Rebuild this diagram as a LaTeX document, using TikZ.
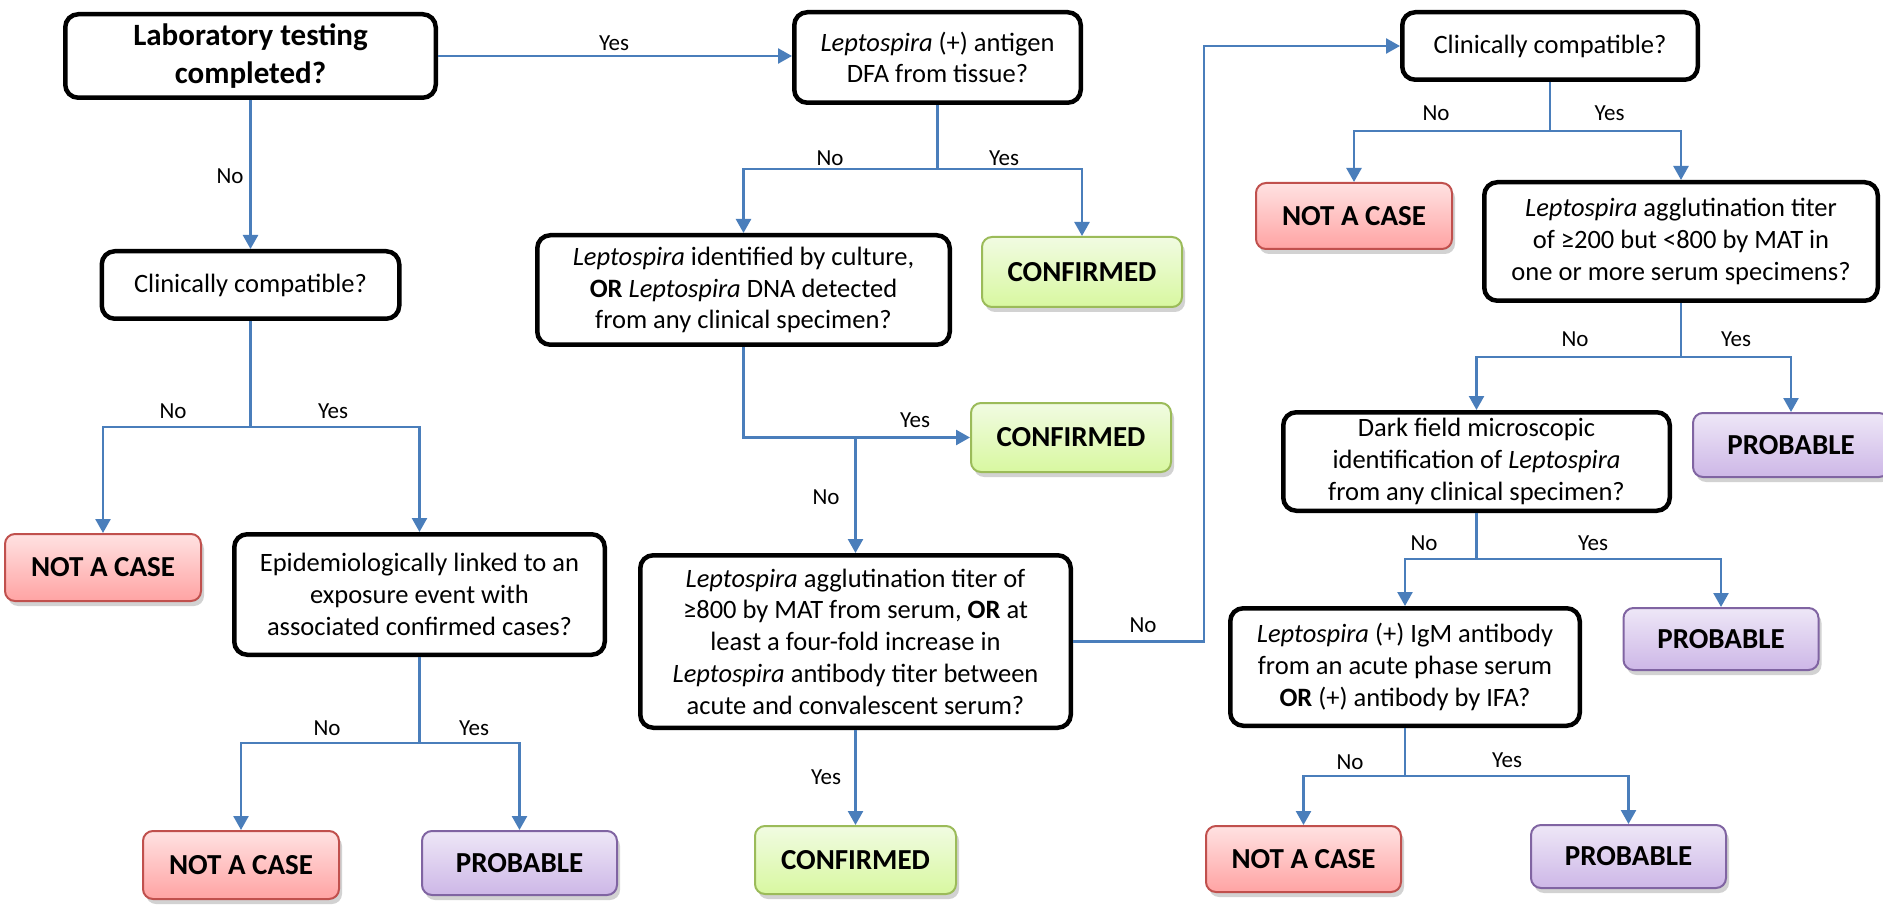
\documentclass[tikz,border=0pt]{standalone}
\usepackage{fontspec}
\setmainfont{Carlito}
\usetikzlibrary{arrows.meta,shadows,calc}
\definecolor{connc}{HTML}{4A7EBB}
\definecolor{nacT}{HTML}{FFE2E2}
\definecolor{nacB}{HTML}{FFA3A3}
\definecolor{nacD}{HTML}{C0504D}
\definecolor{cfT}{HTML}{F1FBE2}
\definecolor{cfB}{HTML}{D8F8A0}
\definecolor{cfD}{HTML}{9BBB59}
\definecolor{prT}{HTML}{EEE7F7}
\definecolor{prB}{HTML}{CDB7E7}
\definecolor{prD}{HTML}{8064A2}
\begin{document}
\begin{tikzpicture}[x=1pt,y=-1pt,
  dec/.style={draw=black, line width=4.5pt, rounded corners=13pt, fill=white,
    align=center, inner sep=0pt, font=\fontsize{26.5}{31.7}\selectfont},
  outc/.style={line width=2pt, rounded corners=10pt, align=center, inner sep=0pt,
    font=\fontsize{29}{34}\selectfont\bfseries,
    drop shadow={shadow xshift=3pt, shadow yshift=-5pt, opacity=0.25, fill=black!70}},
  nac/.style={outc, draw=nacD, top color=nacT, bottom color=nacB},
  cnf/.style={outc, draw=cfD, top color=cfT, bottom color=cfB},
  prb/.style={outc, draw=prD, top color=prT, bottom color=prB},
  cline/.style={draw=connc, line width=2.5pt},
  conn/.style={cline, -{Triangle[length=14pt,width=15pt]}},
  lbl/.style={font=\fontsize{23}{27}\selectfont, inner sep=0pt},
]
\useasboundingbox (0,0) rectangle (1883,909);
\fill[white] (0,0) rectangle (1883,909);

% decision boxes
\node[dec, minimum width=370.5pt, minimum height=83.5pt, font=\fontsize{31}{38}\selectfont\bfseries] (lab) at (250.5,56) {Laboratory testing\\completed?};
\node[dec, minimum width=286.5pt, minimum height=90.5pt] (ant) at (937.5,57.5) {\textit{Leptospira} (+) antigen\\DFA from tissue?};
\node[dec, minimum width=295.5pt, minimum height=67.5pt] (ccR) at (1550,46) {Clinically compatible?};
\node[dec, minimum width=297.5pt, minimum height=67.5pt] (ccL) at (250.5,285) {Clinically compatible?};
\node[dec, minimum width=370.5pt, minimum height=120.5pt] (epi) at (419.5,594.5) {Epidemiologically linked to an\\exposure event with\\associated confirmed cases?};
\node[dec, minimum width=412.5pt, minimum height=109.5pt] (cult) at (743.5,290) {\textit{Leptospira} identified by culture,\\\textbf{OR} \textit{Leptospira} DNA detected\\from any clinical specimen?};
\node[dec, minimum width=430.5pt, minimum height=172.5pt] (mat) at (855.5,641.5) {\textit{Leptospira} agglutination titer of\\≥800 by MAT from serum, \textbf{OR} at\\least a four-fold increase in\\\textit{Leptospira} antibody titer between\\acute and convalescent serum?};
\node[dec, minimum width=393.5pt, minimum height=118.5pt] (titer) at (1681,241.5) {\textit{Leptospira} agglutination titer\\of ≥200 but <800 by MAT in\\one or more serum specimens?};
\node[dec, minimum width=386.5pt, minimum height=98.5pt] (dark) at (1476.5,461.5) {Dark field microscopic\\identification of \textit{Leptospira}\\from any clinical specimen?};
\node[dec, minimum width=349.5pt, minimum height=117.5pt] (igm) at (1405,667) {\textit{Leptospira} (+) IgM antibody\\from an acute phase serum\\\textbf{OR} (+) antibody by IFA?};

% outcome boxes
\node[nac, minimum width=196pt, minimum height=67pt] (notL) at (103,567.5) {NOT A CASE};
\node[nac, minimum width=196pt, minimum height=68pt] (notBL) at (241,865) {NOT A CASE};
\node[prb, minimum width=195pt, minimum height=64pt] (probBL) at (519.5,863) {PROBABLE};
\node[cnf, minimum width=200pt, minimum height=70pt] (conf1) at (1082,272) {CONFIRMED};
\node[cnf, minimum width=200pt, minimum height=69pt] (conf2) at (1071,437.5) {CONFIRMED};
\node[cnf, minimum width=201pt, minimum height=68pt] (conf3) at (855.5,860) {CONFIRMED};
\node[nac, minimum width=196pt, minimum height=66pt] (notR) at (1354,216) {NOT A CASE};
\node[prb, minimum width=196pt, minimum height=64pt] (probR1) at (1791,445) {PROBABLE};
\node[prb, minimum width=195pt, minimum height=62pt] (probR2) at (1721,639) {PROBABLE};
\node[nac, minimum width=195pt, minimum height=66pt] (notBR) at (1303.5,859) {NOT A CASE};
\node[prb, minimum width=195pt, minimum height=63pt] (probBR) at (1628.5,856.5) {PROBABLE};

% branch points
\coordinate (bccL) at (250.5,427);
\coordinate (bepi) at (419.5,743);
\coordinate (bant) at (937.5,169);
\coordinate (bccR) at (1550,131);
\coordinate (btit) at (1681,357);
\coordinate (bdark) at (1476.5,559);
\coordinate (bigm) at (1405,776);
\coordinate (ret) at (1204,641.5);

% connectors
\draw[conn] (lab.east) -- (lab.east -| ant.west);
\draw[conn] (lab.south) -- (ccL.north);

\draw[cline] (ccL.south) -- (bccL);
\draw[conn] (bccL) -| (notL.north);
\draw[conn] (bccL) -| (epi.north);

\draw[cline] (epi.south) -- (bepi);
\draw[conn] (bepi) -| (notBL.north);
\draw[conn] (bepi) -| (probBL.north);

\draw[cline] (ant.south) -- (bant);
\draw[conn] (bant) -| (cult.north);
\draw[conn] (bant) -| (conf1.north);

\draw[conn] (cult.south) |- (conf2.west);
\draw[conn] (mat.north |- conf2.west) -- (mat.north);
\draw[conn] (mat.south) -- (conf3.north);
\draw[conn] (mat.east) -- (ret) |- (ccR.west);

\draw[cline] (ccR.south) -- (bccR);
\draw[conn] (bccR) -| (notR.north);
\draw[conn] (bccR) -| (titer.north);

\draw[cline] (titer.south) -- (btit);
\draw[conn] (btit) -| (dark.north);
\draw[conn] (btit) -| (probR1.north);

\draw[cline] (dark.south) -- (bdark);
\draw[conn] (bdark) -| (igm.north);
\draw[conn] (bdark) -| (probR2.north);

\draw[cline] (igm.south) -- (bigm);
\draw[conn] (bigm) -| (notBR.north);
\draw[conn] (bigm) -| (probBR.north);

% labels
\node[lbl] (l1) at (614,43) {Yes};
\node[lbl] (l2) at (230,176) {No};
\node[lbl] (l3) at (173,411) {No};
\node[lbl] (l4) at (333,411) {Yes};
\node[lbl] (l5) at (327,728) {No};
\node[lbl] (l6) at (474,728) {Yes};
\node[lbl] (l7) at (830,158) {No};
\node[lbl] (l8) at (1004,158) {Yes};
\node[lbl] (l9) at (915,420) {Yes};
\node[lbl] (l10) at (826,497) {No};
\node[lbl] (l11) at (1143,625) {No};
\node[lbl] (l12) at (826,777) {Yes};
\node[lbl] (l13) at (1436,113) {No};
\node[lbl] (l14) at (1609.5,113) {Yes};
\node[lbl] (l15) at (1575,339) {No};
\node[lbl] (l16) at (1736,339) {Yes};
\node[lbl] (l17) at (1424,543) {No};
\node[lbl] (l18) at (1593,543) {Yes};
\node[lbl] (l19) at (1350,762) {No};
\node[lbl] (l20) at (1507,760) {Yes};
\end{tikzpicture}
\end{document}
